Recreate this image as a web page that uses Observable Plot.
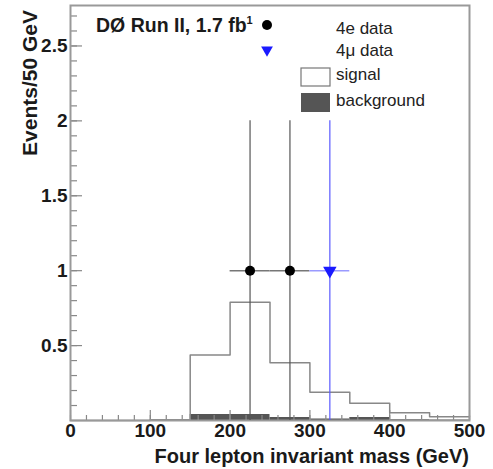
<!DOCTYPE html>
<html><head><meta charset="utf-8">
<script src="https://cdn.jsdelivr.net/npm/d3@7"></script>
<script src="https://cdn.jsdelivr.net/npm/@observablehq/plot@0.6"></script>
<style>
body{margin:0;background:#fff;}
#chart{position:relative;width:493px;height:469px;}
</style></head><body><div id="chart"></div>
<script>
// Data
const binEdges = [0,50,100,150,200,250,300,350,400,450,500];
const signal     = [0,0,0.005,0.438,0.789,0.385,0.189,0.115,0.051,0.025];
const background = [0,0,0.004,0.04,0.04,0.02,0.01,0.02,0.005,0.003];
const data4e  = [{m:225, n:1, lo:0, hi:2.0, xlo:200, xhi:250},{m:275, n:1, lo:0, hi:2.0, xlo:250, xhi:300}];
const data4mu = [{m:325, n:1, lo:0, hi:2.0, xlo:300, xhi:350}];
const xMajor = [0,100,200,300,400,500];
const xMinor = d3.range(0,501,20);
const yMajor = [0.5,1,1.5,2,2.5];
const yMinor = d3.range(0.1,2.75,0.1);
const yLabels = ["0.5","1","1.5","2","2.5"];

const W=493,H=469, mL=70, mR=24, mT=5, mB=49;
const fw = W-mL-mR, fh = H-mT-mB;
const font = "'Liberation Sans', Arial, Helvetica, sans-serif";

const sigLine = binEdges.map((e,i)=>({x:e, y: i<signal.length ? signal[i] : signal[signal.length-1]}));
const bgRects = background.map((v,i)=>({x1:binEdges[i], x2:binEdges[i+1], y:v}));

const plot = Plot.plot({
  width: W, height: H,
  marginLeft: mL, marginRight: mR, marginTop: mT, marginBottom: mB,
  style: {fontFamily: font, background: "#fff", overflow: "visible"},
  x: {domain:[0,500], axis: null},
  y: {domain:[0,2.77], axis: null},
  marks: [
    Plot.rectY(bgRects, {x1:"x1", x2:"x2", y:"y", fill:"#555"}),
    Plot.line(sigLine, {x:"x", y:"y", curve:"step-after", stroke:"#888", strokeWidth:1.5}),
    // minor / major ticks
    Plot.ruleX(xMinor, {x: d=>d, insetTop: fh-5, stroke:"#888", strokeWidth:1.2}),
    Plot.ruleX(xMajor, {x: d=>d, insetTop: fh-10, stroke:"#888", strokeWidth:1.2}),
    Plot.ruleY(yMinor, {y: d=>d, insetRight: fw-7, stroke:"#888", strokeWidth:1.2}),
    Plot.ruleY(yMajor, {y: d=>d, insetRight: fw-12, stroke:"#888", strokeWidth:1.2}),
    Plot.frame({stroke:"#999", strokeWidth:2}),
    // error bars
    Plot.ruleX(data4e, {x:"m", y1:"lo", y2:"hi", stroke:"#555", strokeWidth:1.2}),
    Plot.ruleY(data4e, {y:"n", x1:"xlo", x2:"xhi", stroke:"#777", strokeWidth:1.5}),
    Plot.ruleX(data4mu, {x:"m", y1:"lo", y2:"hi", stroke:"#5a5aff", strokeWidth:1.2}),
    Plot.ruleY(data4mu, {y:"n", x1:"xlo", x2:"xhi", stroke:"#9a9aff", strokeWidth:1.5}),
    Plot.dot(data4e, {x:"m", y:"n", r:5, fill:"#000", stroke:"none"}),
    Plot.dot(data4mu, {x:"m", y:"n", symbol:"triangle", r:5, rotate:180, fill:"#1a1aff", stroke:"none"}),
    // tick labels
    Plot.text(xMajor, {x: d=>d, text: d=>String(d), frameAnchor:"bottom", dy:16, fontSize:19, fontWeight:"bold", fill:"#1a1a1a"}),
    Plot.text(yMajor, {y: d=>d, text: (d,i)=>yLabels[i], frameAnchor:"left", dx:-3, textAnchor:"end", fontSize:19, fontWeight:"bold", fill:"#1a1a1a"})
  ]
});
document.getElementById("chart").appendChild(plot);

const svg = d3.select(plot);
const txt = (x,y,s,opts={})=>{
  const t = svg.append("text").attr("x",x).attr("y",y).text(s)
    .attr("font-family",font).attr("font-size",opts.size||17)
    .attr("font-weight",opts.weight||"normal").attr("fill",opts.fill||"#222")
    .attr("text-anchor",opts.anchor||"start");
  return t;
};
// axis titles
txt(469, 463, "Four lepton invariant mass (GeV)", {size:20, weight:"bold", anchor:"end", fill:"#1a1a1a"});
svg.append("text").attr("transform","translate(37,10) rotate(-90)")
  .attr("text-anchor","end").attr("font-family",font).attr("font-size",21)
  .attr("font-weight","bold").attr("fill","#1a1a1a").text("Events/50 GeV");
// title
const t = txt(96, 32, "DØ Run II, 1.7 fb", {size:19.5, weight:"bold", fill:"#1a1a1a"});
t.append("tspan").attr("dy",-8).attr("font-size",11).text("1");
// legend
const lg = svg.append("g");
lg.append("circle").attr("cx",267).attr("cy",25).attr("r",5).attr("fill","#000");
lg.append("path").attr("d", d3.symbol(d3.symbolTriangle, 60)()).attr("transform","translate(267,50) rotate(180)").attr("fill","#1a1aff");
lg.append("rect").attr("x",301).attr("y",68).attr("width",29).attr("height",18).attr("fill","#fff").attr("stroke","#777").attr("stroke-width",1.2);
lg.append("rect").attr("x",301).attr("y",93).attr("width",29).attr("height",19).attr("fill","#555");
txt(336, 34, "4e data");
txt(336, 56, "4μ data");
txt(336, 80, "signal");
txt(336, 106, "background");
</script></body></html>
